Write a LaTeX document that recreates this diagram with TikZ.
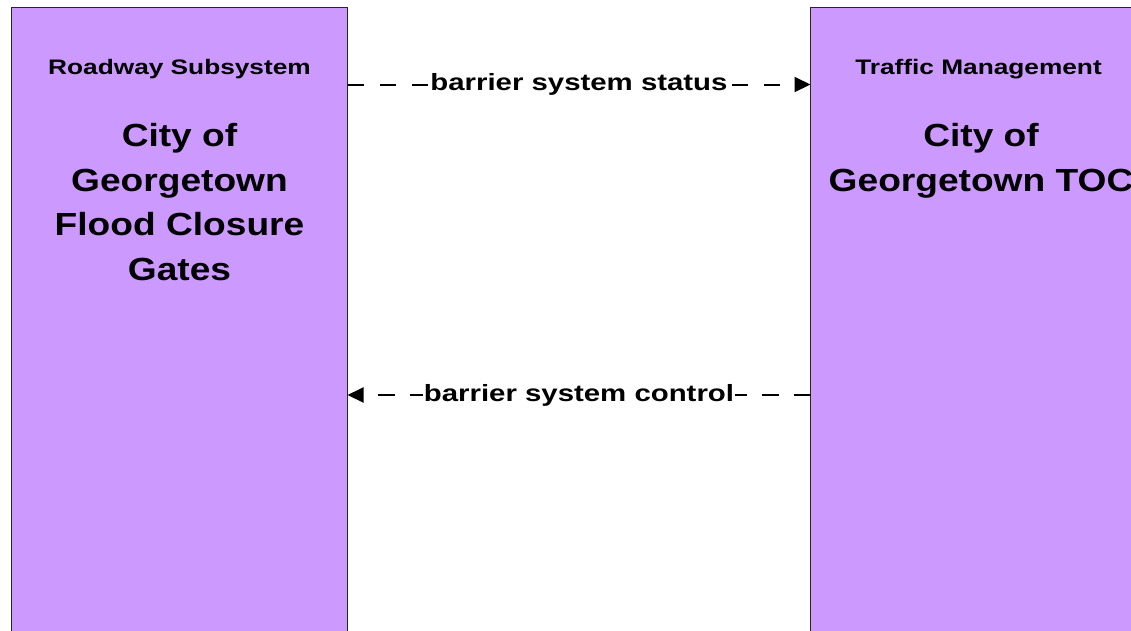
\documentclass[tikz,border=0pt]{standalone}
\usepackage{fontspec}
\setmainfont{Liberation Sans}[FakeStretch=1.25]
\newfontfamily\namefont{Liberation Sans}[FakeStretch=1.16]
\usetikzlibrary{arrows.meta}
\definecolor{boxfill}{HTML}{CC99FF}
\tikzset{
  sysbox/.style={draw=black!85, line width=1pt, fill=boxfill, minimum width=336pt, minimum height=642pt, inner sep=0pt, outer sep=0pt},
  cattext/.style={font=\fontsize{21}{25}\selectfont\bfseries, anchor=base, inner sep=0pt},
  nametext/.style={font=\namefont\fontsize{32}{44.7}\selectfont\bfseries, align=center, anchor=base, inner sep=0pt},
  flow/.style={line width=2pt, dash pattern=on 16.5pt off 15.5pt, -{Triangle[length=16pt,width=15pt]}},
  flowlbl/.style={font=\fontsize{23.5}{28}\selectfont\bfseries, fill=white, inner sep=1pt}
}
\begin{document}
\begin{tikzpicture}[x=1pt,y=1pt]
\useasboundingbox (0,0) rectangle (1131,-630);
\node[sysbox] (L) at (179.5,-328.75) {};
\node[sysbox] (R) at (978.5,-328.75) {};
\node[cattext] (Lcat) at (179.5,-74) {Roadway Subsystem};
\node[cattext] (Rcat) at (978.5,-74) {Traffic Management};
\node[nametext] (Lname) at (179.5,-280.5) {City of\\Georgetown\\Flood Closure\\Gates};
\node[nametext] (Rname) at (981,-191) {City of\\Georgetown TOC};
\coordinate (y1) at (0,-84.5);
\coordinate (y2) at (0,-395);
\draw[flow] (L.east |- y1) -- node[flowlbl] (f1) {barrier system status} (R.west |- y1);
\draw[flow] (R.west |- y2) -- node[flowlbl] (f2) {barrier system control} (L.east |- y2);
\end{tikzpicture}
\end{document}
